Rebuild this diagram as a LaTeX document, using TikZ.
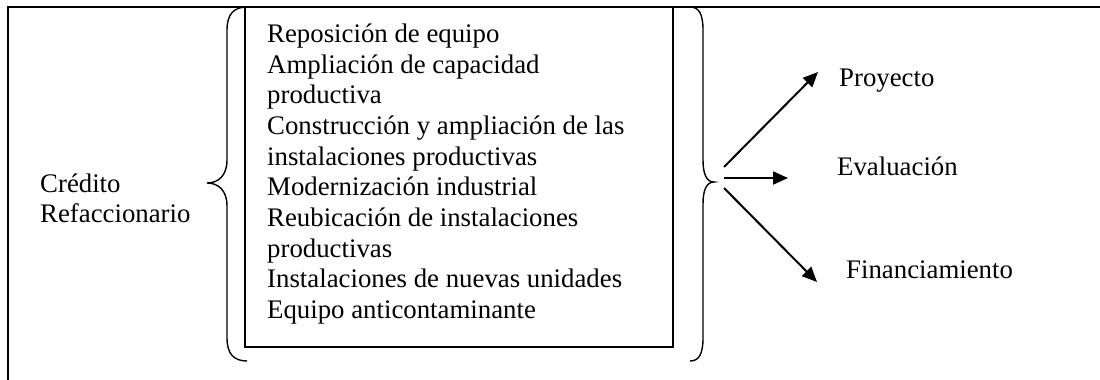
\documentclass[tikz,border=0pt]{standalone}
\usepackage{fontspec}
\setmainfont{Liberation Serif}
\usetikzlibrary{arrows.meta}
\begin{document}
\begin{tikzpicture}[x=1pt,y=-1pt,
  txt/.style={anchor=base west, inner sep=0pt, font=\fontsize{26.8}{31}\selectfont},
  frameline/.style={line width=1.6pt},
  boxline/.style={line width=1.3pt},
  brace/.style={line width=1.4pt},
  arr/.style={line width=2pt, -{Triangle[length=15pt,width=13pt]}}]
\useasboundingbox (0,0) rectangle (1100,380);
% outer frame
\draw[frameline] (8,380) -- (8,7) -- (1100,7);
% inner box
\draw[boxline] (245,7) rectangle (673,347);
% left label
\node[txt] (cred) at (40,192) {Crédito};
\node[txt] (refa) at (40,222) {Refaccionario};
% list
\node[txt] (l1) at (267,42) {Reposición de equipo};
\node[txt] (l2) at (267,73) {Ampliación de capacidad};
\node[txt] (l3) at (267,103.5) {productiva};
\node[txt] (l4) at (267,134) {Construcción y ampliación de las};
\node[txt] (l5) at (267,165) {instalaciones productivas};
\node[txt] (l6) at (267,195.5) {Modernización industrial};
\node[txt] (l7) at (267,226) {Reubicación de instalaciones};
\node[txt] (l8) at (267,257) {productivas};
\node[txt] (l9) at (267,287.5) {Instalaciones de nuevas unidades};
\node[txt] (l10) at (267,318) {Equipo anticontaminante};
% braces
\draw[brace] (247,7) .. controls (234,7) and (227,14) .. (227,30) -- (227,160)
  .. controls (227,176) and (218,183) .. (207,183)
  .. controls (218,183) and (227,190) .. (227,206) -- (227,338)
  .. controls (227,354) and (234,361) .. (247,361);
\draw[brace] (690,7) .. controls (699,7) and (703,14) .. (703,30) -- (703,160)
  .. controls (703,175) and (707,182) .. (714,182)
  .. controls (707,182) and (703,189) .. (703,204) -- (703,338)
  .. controls (703,354) and (699,361) .. (690,361);
% right labels
\node[txt] (proy) at (839,86) {Proyecto};
\node[txt] (eval) at (837,175) {Evaluación};
\node[txt] (fina) at (846,278) {Financiamiento};
% arrows
\coordinate (o1) at (724,167);
\coordinate (o2) at (724,178);
\coordinate (o3) at (724,188);
\coordinate (e1) at (818,72);
\coordinate (e2) at (788,178);
\coordinate (e3) at (817,282);
\draw[arr] (o1) -- (e1);
\draw[arr] (o2) -- (e2);
\draw[arr] (o3) -- (e3);
\end{tikzpicture}
\end{document}
